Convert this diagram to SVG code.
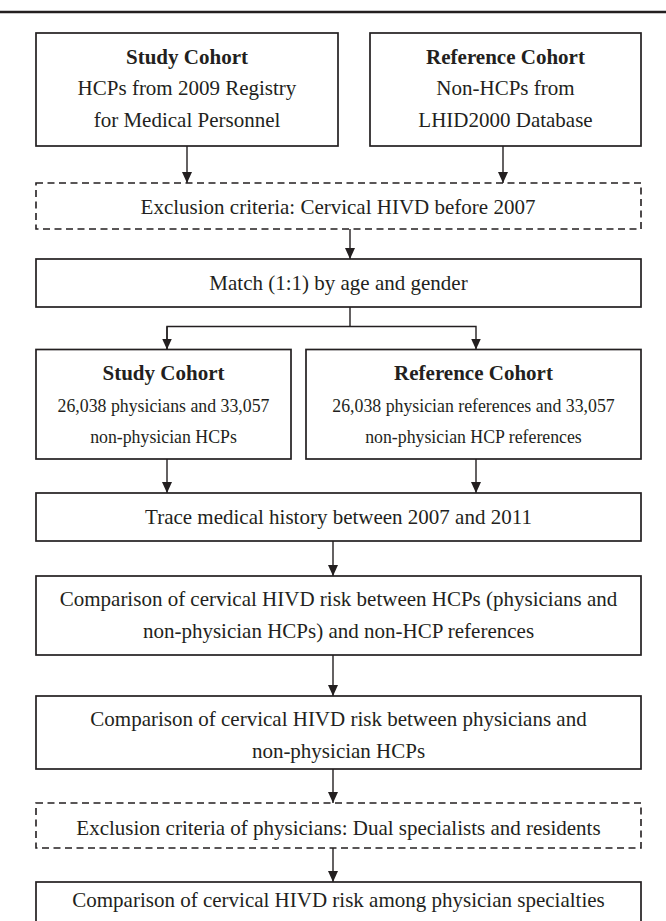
<svg xmlns="http://www.w3.org/2000/svg" width="666" height="921" viewBox="0 0 666 921">
<defs>
<style>
.box{fill:#fff;stroke:#231f20;stroke-width:1.7}
.dash{fill:#fff;stroke:#231f20;stroke-width:1.6;stroke-dasharray:7 4.5}
.t{font-family:"Liberation Serif","Times New Roman",serif;font-size:21px;fill:#231f20;text-anchor:middle}
.b{font-weight:bold}
.s{font-size:17.8px}
.c{fill:none;stroke:#231f20;stroke-width:1.4}
</style>
<marker id="ah" markerUnits="userSpaceOnUse" markerWidth="11" markerHeight="10" refX="11" refY="5" orient="auto">
<path d="M0,0 L11,5 L0,10 z" fill="#231f20"/>
</marker>
</defs>
<rect width="666" height="921" fill="#fff"/>
<line x1="0" y1="12" x2="666" y2="12" stroke="#231f20" stroke-width="2.5"/>
<g id="connectors">
<line class="c" x1="187" y1="146" x2="187" y2="183" marker-end="url(#ah)"/>
<line class="c" x1="503" y1="146" x2="503" y2="183" marker-end="url(#ah)"/>
<line class="c" x1="350" y1="229" x2="350" y2="259" marker-end="url(#ah)"/>
<polyline class="c" points="350,307 350,326.5"/>
<polyline class="c" points="167,349.5 167,326.5 476,326.5 476,349.5" marker-end="url(#ah)"/>
<line class="c" x1="167" y1="326.5" x2="167" y2="349.5" marker-end="url(#ah)"/>
<line class="c" x1="167" y1="459" x2="167" y2="493" marker-end="url(#ah)"/>
<line class="c" x1="476" y1="459" x2="476" y2="493" marker-end="url(#ah)"/>
<line class="c" x1="333" y1="541" x2="333" y2="576" marker-end="url(#ah)"/>
<line class="c" x1="333" y1="655" x2="333" y2="696" marker-end="url(#ah)"/>
<line class="c" x1="333" y1="769" x2="333" y2="803" marker-end="url(#ah)"/>
<line class="c" x1="333" y1="848" x2="333" y2="882" marker-end="url(#ah)"/>
</g>
<g id="study-cohort">
<rect class="box" x="36" y="33" width="302" height="113"/>
<text class="t b" x="187" y="63.5">Study Cohort</text>
<text class="t" x="187" y="95">HCPs from 2009 Registry</text>
<text class="t" x="187" y="126.5">for Medical Personnel</text>
</g>
<g id="reference-cohort">
<rect class="box" x="370" y="33" width="271" height="113"/>
<text class="t b" x="505.5" y="63.5">Reference Cohort</text>
<text class="t" x="505.5" y="95">Non-HCPs from</text>
<text class="t" x="505.5" y="126.5">LHID2000 Database</text>
</g>
<g id="exclusion-1">
<rect class="dash" x="36" y="183" width="605" height="46"/>
<text class="t" x="338" y="214">Exclusion criteria: Cervical HIVD before 2007</text>
</g>
<g id="match">
<rect class="box" x="36" y="259" width="605" height="48"/>
<text class="t" x="338.5" y="290">Match (1:1) by age and gender</text>
</g>
<g id="study-cohort-2">
<rect class="box" x="36" y="349.5" width="255" height="109.5"/>
<text class="t b" x="163.5" y="380">Study Cohort</text>
<text class="t s" x="163.5" y="412">26,038 physicians and 33,057</text>
<text class="t s" x="163.5" y="443">non-physician HCPs</text>
</g>
<g id="reference-cohort-2">
<rect class="box" x="306" y="349.5" width="335" height="109.5"/>
<text class="t b" x="473.5" y="380">Reference Cohort</text>
<text class="t s" x="473.5" y="412">26,038 physician references and 33,057</text>
<text class="t s" x="473.5" y="443">non-physician HCP references</text>
</g>
<g id="trace">
<rect class="box" x="36" y="493" width="605" height="48"/>
<text class="t" x="338.5" y="524">Trace medical history between 2007 and 2011</text>
</g>
<g id="comparison-1">
<rect class="box" x="36" y="576" width="605" height="79"/>
<text class="t" x="338.5" y="606">Comparison of cervical HIVD risk between HCPs (physicians and</text>
<text class="t" x="338.5" y="638">non-physician HCPs) and non-HCP references</text>
</g>
<g id="comparison-2">
<rect class="box" x="36" y="696" width="605" height="73"/>
<text class="t" x="338.5" y="726">Comparison of cervical HIVD risk between physicians and</text>
<text class="t" x="338.5" y="758">non-physician HCPs</text>
</g>
<g id="exclusion-2">
<rect class="dash" x="36" y="803" width="605" height="45"/>
<text class="t" x="338.5" y="835">Exclusion criteria of physicians: Dual specialists and residents</text>
</g>
<g id="comparison-3">
<rect class="box" x="36" y="882" width="605" height="60"/>
<text class="t" x="338.5" y="907">Comparison of cervical HIVD risk among physician specialties</text>
</g>
</svg>
